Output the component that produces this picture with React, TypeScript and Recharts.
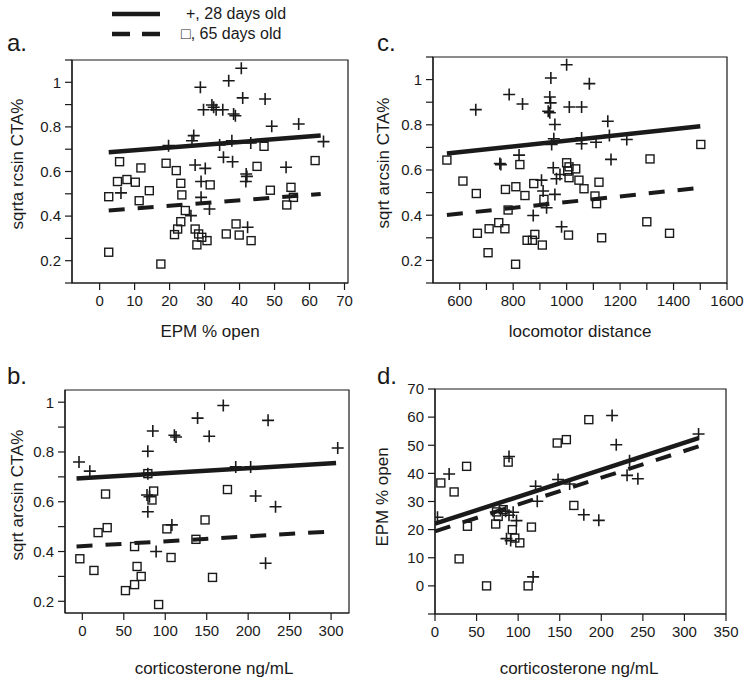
import React from 'react';
import { ScatterChart, Scatter, XAxis, YAxis, ReferenceArea } from 'recharts';

const FONT = '"Liberation Sans", Arial, Helvetica, sans-serif';
const INK = '#1a1a1a';

// ---------- Panel a: EPM % open vs sqrt arcsin CTA% ----------
const aYoung: [number, number][] = [
  [40.5, 1.063], [36.9, 1.007], [28.8, 0.978], [32.1, 0.898], [32.6, 0.888], [29.7, 0.877],
  [33.3, 0.877], [35.2, 0.877], [38.3, 0.858], [38.8, 0.85], [40.9, 0.93], [47.3, 0.925],
  [49.2, 0.803], [56.9, 0.813], [26.9, 0.761], [26.4, 0.738], [19.7, 0.716], [34.3, 0.719],
  [37.8, 0.738], [43.2, 0.728], [64.0, 0.734], [35.4, 0.664], [38.0, 0.644], [27.3, 0.629],
  [30.2, 0.614], [53.3, 0.619], [41.9, 0.589], [42.1, 0.578], [41.8, 0.555], [29.0, 0.555],
  [6.1, 0.504], [29.0, 0.484], [31.4, 0.432], [26.1, 0.402], [42.3, 0.35],
];
const aOld: [number, number][] = [
  [47.0, 0.713], [61.6, 0.649], [5.7, 0.644], [11.8, 0.616], [19.0, 0.637], [21.9, 0.604],
  [45.0, 0.623], [5.1, 0.555], [7.8, 0.564], [10.2, 0.552], [23.2, 0.547], [31.6, 0.54],
  [2.6, 0.487], [14.2, 0.514], [11.3, 0.469], [23.5, 0.495], [48.8, 0.516], [54.7, 0.529],
  [55.4, 0.484], [53.5, 0.45], [24.5, 0.425], [23.2, 0.375], [22.3, 0.342], [21.4, 0.317],
  [27.3, 0.342], [28.3, 0.32], [29.2, 0.305], [27.8, 0.271], [30.7, 0.29], [39.0, 0.365],
  [36.2, 0.32], [39.9, 0.315], [43.3, 0.29], [2.6, 0.238], [17.5, 0.185],
];
const aFitYoung: [number, number][] = [[2.6, 0.686], [63.2, 0.761]];
const aFitOld: [number, number][] = [[2.6, 0.425], [63.2, 0.499]];

// ---------- Panel c: locomotor distance vs sqrt arcsin CTA% ----------
const cYoung: [number, number][] = [
  [1000, 1.066], [941, 1.007], [1085, 0.982], [785, 0.934], [835, 0.892], [660, 0.867],
  [937, 0.923], [940, 0.897], [931, 0.86], [937, 0.853], [1010, 0.879], [1056, 0.879],
  [1154, 0.816], [956, 0.801], [1160, 0.753], [1225, 0.735], [1056, 0.742], [1110, 0.723],
  [1056, 0.716], [952, 0.738], [944, 0.713], [822, 0.666], [1166, 0.647], [750, 0.629],
  [754, 0.624], [950, 0.61], [975, 0.58], [962, 0.561], [906, 0.555], [912, 0.507],
  [956, 0.492], [925, 0.433], [875, 0.399], [981, 0.349],
];
const cOld: [number, number][] = [
  [552, 0.644], [825, 0.624], [1000, 0.632], [1009, 0.614], [1034, 0.605], [1004, 0.595],
  [1009, 0.566], [1046, 0.555], [1065, 0.517], [1121, 0.546], [1312, 0.649], [1502, 0.713],
  [612, 0.551], [662, 0.496], [771, 0.514], [810, 0.526], [844, 0.487], [877, 0.54],
  [915, 0.47], [1106, 0.485], [1112, 0.451], [781, 0.423], [746, 0.367], [710, 0.34],
  [769, 0.34], [666, 0.32], [881, 0.315], [852, 0.289], [872, 0.289], [909, 0.268],
  [1007, 0.312], [1131, 0.3], [1300, 0.371], [1385, 0.32], [706, 0.234], [809, 0.183],
];
const cFitYoung: [number, number][] = [[552, 0.673], [1500, 0.794]];
const cFitOld: [number, number][] = [[552, 0.401], [1497, 0.521]];

// ---------- Panel b: corticosterone vs sqrt arcsin CTA% ----------
const bYoung: [number, number][] = [
  [170, 0.987], [139, 0.936], [224, 0.927], [85, 0.884], [111, 0.867], [113, 0.86],
  [153, 0.863], [308, 0.816], [79, 0.803], [-4, 0.76], [9, 0.723], [79, 0.713],
  [185, 0.74], [203, 0.74], [78, 0.627], [81, 0.62], [209, 0.623], [233, 0.58],
  [79, 0.56], [108, 0.507], [89, 0.4], [221, 0.353],
];
const bOld: [number, number][] = [
  [79, 0.713], [175, 0.649], [28, 0.631], [86, 0.643], [84, 0.607], [148, 0.527],
  [19, 0.476], [30, 0.496], [102, 0.491], [137, 0.449], [63, 0.42], [-3, 0.371],
  [107, 0.376], [14, 0.324], [66, 0.34], [71, 0.3], [63, 0.267], [52, 0.243],
  [157, 0.296], [92, 0.187],
];
const bFitYoung: [number, number][] = [[-7, 0.693], [306, 0.756]];
const bFitOld: [number, number][] = [[-7, 0.42], [297, 0.48]];

// ---------- Panel d: corticosterone vs EPM % open ----------
const dYoung: [number, number][] = [
  [213, 60.6], [218, 50.2], [317, 54.0], [89, 46.0], [17, 39.8], [234, 44.5],
  [231, 39.3], [244, 38.1], [121, 35.4], [123, 30.1], [148, 37.8], [162, 36.2],
  [3, 24.4], [85, 26.5], [94, 26.2], [89, 25.1], [98, 23.2], [179, 25.3],
  [197, 23.3], [86, 16.8], [91, 16.1], [118, 3.2],
];
const dOld: [number, number][] = [
  [185, 59.1], [147, 50.8], [158, 52.0], [88, 44.0], [38, 42.5], [7, 36.6],
  [23, 33.4], [167, 28.6], [74, 26.3], [82, 27.1], [76, 24.7], [73, 22.0],
  [39, 21.2], [93, 20.0], [96, 17.0], [102, 15.3], [116, 20.9], [29, 9.6],
  [62, 0], [112, 0],
];
const dFitYoung: [number, number][] = [[0, 22.1], [317, 52.5]];
const dFitOld: [number, number][] = [[0, 19.4], [317, 49.6]];

// ---------- Ticks ----------
const ctaTicks = [0.1, 0.2, 0.3, 0.4, 0.5, 0.6, 0.7, 0.8, 0.9, 1.0, 1.1];
const ctaTicksB = [0.2, 0.3, 0.4, 0.5, 0.6, 0.7, 0.8, 0.9, 1.0];
const ctaLabels = ['0.2', '0.4', '0.6', '0.8', '1'];
const epmXTicks = [0, 10, 20, 30, 40, 50, 60, 70];
const locoTicks = [600, 700, 800, 900, 1000, 1100, 1200, 1300, 1400, 1500, 1600];
const locoLabels = ['600', '800', '1000', '1200', '1400', '1600'];
const cortTicksB = [0, 50, 100, 150, 200, 250, 300];
const cortTicksD = [0, 50, 100, 150, 200, 250, 300, 350];
const epmYTicks = [-10, 0, 10, 20, 30, 40, 50, 60, 70];
const epmYLabels = ['0', '10', '20', '30', '40', '50', '60', '70'];

const pick = (labels: string[] | null) => (v: number) => {
  const s = String(Math.round(v * 10) / 10);
  if (!labels) return s;
  return labels.includes(s) ? s : '';
};

const Cross = (p: any) => {
  const { cx, cy } = p;
  if (cx == null || cy == null) return <g />;
  return (
    <path
      d={`M${cx - 6},${cy}H${cx + 6}M${cx},${cy - 6}V${cy + 6}`}
      stroke={INK}
      strokeWidth={1.6}
      fill="none"
    />
  );
};
const Square = (p: any) => {
  const { cx, cy } = p;
  if (cx == null || cy == null) return <g />;
  return <rect x={cx - 4} y={cy - 4} width={8} height={8} fill="none" stroke={INK} strokeWidth={1.4} />;
};
const Empty = () => <g />;

const toPts = (arr: [number, number][]) => arr.map(([x, y]) => ({ x, y }));

type PanelProps = {
  box: { x: number; y: number; w: number; h: number };
  xDomain: [number, number];
  yDomain: [number, number];
  xTicks: number[];
  yTicks: number[];
  xLabels: string[] | null;
  yLabels: string[] | null;
  young: [number, number][];
  old: [number, number][];
  fitYoung: [number, number][];
  fitOld: [number, number][];
};

function Panel({ box, xDomain, yDomain, xTicks, yTicks, xLabels, yLabels, young, old, fitYoung, fitOld }: PanelProps) {
  const WY = 60, MT = 14, MR = 22, HX = 40;
  const width = box.w + WY + MR;
  const height = box.h + MT + HX;
  const tickStyle = { fontSize: 15, fill: INK, fontFamily: FONT };
  return (
    <div style={{ position: 'absolute', left: box.x - WY, top: box.y - MT }}>
      <ScatterChart width={width} height={height} margin={{ top: MT, right: MR, bottom: 0, left: 0 }}>
        <XAxis
          type="number"
          dataKey="x"
          domain={xDomain}
          ticks={xTicks}
          interval={0}
          allowDataOverflow
          tickFormatter={pick(xLabels)}
          tickSize={7}
          tickMargin={5}
          height={HX}
          axisLine={{ stroke: INK, strokeWidth: 1.2 }}
          tickLine={{ stroke: INK, strokeWidth: 1.2 }}
          tick={tickStyle}
        />
        <YAxis
          type="number"
          dataKey="y"
          domain={yDomain}
          ticks={yTicks}
          interval={0}
          allowDataOverflow
          tickFormatter={pick(yLabels)}
          tickSize={7}
          tickMargin={4}
          width={WY}
          axisLine={{ stroke: INK, strokeWidth: 1.2 }}
          tickLine={{ stroke: INK, strokeWidth: 1.2 }}
          tick={tickStyle}
        />
        <ReferenceArea
          x1={xDomain[0]}
          x2={xDomain[1]}
          y1={yDomain[0]}
          y2={yDomain[1]}
          fill="none"
          fillOpacity={0}
          stroke={INK}
          strokeWidth={1.2}
          ifOverflow="visible"
        />
        <Scatter data={toPts(old)} shape={Square} isAnimationActive={false} />
        <Scatter data={toPts(young)} shape={Cross} isAnimationActive={false} />
        <Scatter
          data={toPts(fitYoung)}
          line={{ stroke: INK, strokeWidth: 4.5 }}
          shape={Empty}
          isAnimationActive={false}
        />
        <Scatter
          data={toPts(fitOld)}
          line={{ stroke: INK, strokeWidth: 4, strokeDasharray: '16 13' }}
          shape={Empty}
          isAnimationActive={false}
        />
      </ScatterChart>
    </div>
  );
}

export default function App() {
  const t = { fontFamily: FONT, fill: INK } as const;
  return (
    <div style={{ position: 'absolute', left: 0, top: 0, width: 750, height: 683, background: '#fff' }}>
      <Panel
        box={{ x: 72, y: 60, w: 276, h: 223 }}
        xDomain={[-7.9, 71]}
        yDomain={[0.1, 1.1]}
        xTicks={epmXTicks}
        yTicks={ctaTicks}
        xLabels={null}
        yLabels={ctaLabels}
        young={aYoung}
        old={aOld}
        fitYoung={aFitYoung}
        fitOld={aFitOld}
      />
      <Panel
        box={{ x: 433, y: 57, w: 294, h: 226 }}
        xDomain={[500, 1600]}
        yDomain={[0.1, 1.1]}
        xTicks={locoTicks}
        yTicks={ctaTicks}
        xLabels={locoLabels}
        yLabels={ctaLabels}
        young={cYoung}
        old={cOld}
        fitYoung={cFitYoung}
        fitOld={cFitOld}
      />
      <Panel
        box={{ x: 65, y: 390, w: 284, h: 223 }}
        xDomain={[-20.9, 321.6]}
        yDomain={[0.153, 1.049]}
        xTicks={cortTicksB}
        yTicks={ctaTicksB}
        xLabels={null}
        yLabels={ctaLabels}
        young={bYoung}
        old={bOld}
        fitYoung={bFitYoung}
        fitOld={bFitOld}
      />
      <Panel
        box={{ x: 435, y: 389, w: 291, h: 225 }}
        xDomain={[0, 350]}
        yDomain={[-10, 70]}
        xTicks={cortTicksD}
        yTicks={epmYTicks}
        xLabels={null}
        yLabels={epmYLabels}
        young={dYoung}
        old={dOld}
        fitYoung={dFitYoung}
        fitOld={dFitOld}
      />
      <svg
        width={750}
        height={683}
        style={{ position: 'absolute', left: 0, top: 0, pointerEvents: 'none' }}
      >
        {/* legend */}
        <line x1={112} x2={160} y1={14} y2={14} stroke={INK} strokeWidth={4.5} />
        <text x={186} y={19} fontSize={16} {...t}>+, 28 days old</text>
        <line x1={112} x2={160} y1={34} y2={34} stroke={INK} strokeWidth={4.5} strokeDasharray="18 12" />
        <text x={181} y={39} fontSize={16} {...t}>□, 65 days old</text>

        {/* panel letters */}
        <text x={7} y={51} fontSize={24} {...t}>a.</text>
        <text x={377} y={51} fontSize={24} {...t}>c.</text>
        <text x={7} y={384} fontSize={24} {...t}>b.</text>
        <text x={377} y={384} fontSize={24} {...t}>d.</text>

        {/* x-axis titles */}
        <text x={210} y={337} fontSize={17} textAnchor="middle" {...t}>EPM % open</text>
        <text x={580} y={337} fontSize={17} textAnchor="middle" {...t}>locomotor distance</text>
        <text x={214} y={674} fontSize={17} textAnchor="middle" {...t}>corticosterone ng/mL</text>
        <text x={579} y={674} fontSize={17} textAnchor="middle" {...t}>corticosterone ng/mL</text>

        {/* y-axis titles */}
        <text transform="translate(17.5,164) rotate(-90)" fontSize={17} textAnchor="middle" dominantBaseline="central" {...t}>sqrta rcsin CTA%</text>
        <text transform="translate(383,163) rotate(-90)" fontSize={17} textAnchor="middle" dominantBaseline="central" {...t}>sqrt arcsin CTA%</text>
        <text transform="translate(17.5,495) rotate(-90)" fontSize={17} textAnchor="middle" dominantBaseline="central" {...t}>sqrt arcsin CTA%</text>
        <text transform="translate(382,497) rotate(-90)" fontSize={17} textAnchor="middle" dominantBaseline="central" {...t}>EPM % open</text>
      </svg>
    </div>
  );
}
